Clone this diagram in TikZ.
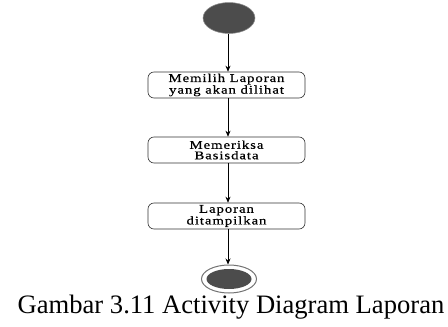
\documentclass[tikz,border=0pt]{standalone}
\usepackage{fontspec}
\setmainfont{Liberation Serif}
\newfontfamily\boxfont[FakeStretch=1.25,LetterSpace=8,FakeBold=0.6]{Liberation Serif}
\usetikzlibrary{arrows.meta}
\usetikzlibrary{shapes.geometric}
\tikzset{
  actbox/.style={draw=black!80, line width=0.6pt, rounded corners=6pt, minimum width=157pt, minimum height=26pt, inner sep=0pt, align=center, font=\boxfont\fontsize{11.8}{10.5}\selectfont},
  flow/.style={draw=black, line width=0.7pt, -{Stealth[length=6pt,width=5pt]}},
  startdot/.style={ellipse, fill=black!70, draw=black!45, line width=0.5pt, minimum width=52pt, minimum height=31pt, inner sep=0pt},
}
\begin{document}
\begin{tikzpicture}[x=1pt,y=1pt]
\useasboundingbox (0,0) rectangle (448,-327);
\node[startdot] (start) at (229,-18) {};
\node[actbox] (a1) at (226.5,-85) {Memilih Laporan\\yang akan dilihat};
\node[actbox] (a2) at (226.5,-150) {Memeriksa\\Basisdata};
\node[actbox] (a3) at (226.5,-216) {Laporan\\ditampilkan};
\node[ellipse, draw=black!55, line width=1pt, fill=white, minimum width=55pt, minimum height=28pt, inner sep=0pt] (end) at (229,-279) {};
\node[ellipse, fill=black!70, minimum width=45pt, minimum height=20pt, inner sep=0pt] (endin) at (end.center) {};
\coordinate (s1) at (228,-34);
\draw[flow] (start.south -| s1) -- (a1.north -| s1);
\draw[flow] (a1.south -| s1) -- (a2.north -| s1);
\draw[flow] (a2.south -| s1) -- (a3.north -| s1);
\draw[flow] (a3.south -| s1) -- (end.north -| s1);
\node[anchor=base, font=\fontsize{26.6}{30}\selectfont, inner sep=0pt] (cap) at (231,-313) {Gambar 3.11 Activity Diagram Laporan};
\end{tikzpicture}
\end{document}
